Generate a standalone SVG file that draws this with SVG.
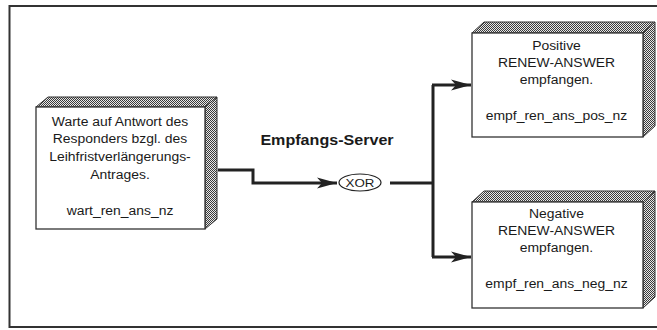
<svg xmlns="http://www.w3.org/2000/svg" width="657" height="330" viewBox="0 0 657 330">
<defs>
<pattern id="dither" width="2" height="2" patternUnits="userSpaceOnUse">
<rect width="2" height="2" fill="#e8e8e8"/>
<rect x="0" y="0" width="1" height="1" fill="#3a3a3a"/>
<rect x="1" y="1" width="1" height="1" fill="#3a3a3a"/>
</pattern>
<marker id="arrow" markerUnits="userSpaceOnUse" markerWidth="24" markerHeight="14" viewBox="-21 -7 22 14" refX="0" refY="0" orient="auto">
<path d="M0,0 L-20,-5.5 L-15,0 L-20,5.5 Z" fill="#222"/>
</marker>
</defs>
<style>
.frame{fill:none;stroke:#333;stroke-width:2}
.face{fill:#fff;stroke:#333;stroke-width:1.3}
.shade{fill:url(#dither);stroke:#333;stroke-width:1}
.t{font-family:"Liberation Sans",Arial,sans-serif;font-size:12px;fill:#1a1a1a;text-anchor:middle}
.tb{font-family:"Liberation Sans",Arial,sans-serif;font-size:14px;font-weight:bold;fill:#1a1a1a;text-anchor:middle}
.conn{fill:none;stroke:#222;stroke-width:3}
.xor{fill:#fff;stroke:#222;stroke-width:1.2}
</style>
<rect width="657" height="330" fill="#fff"/>
<path class="frame" d="M664,6 H9.5 V327 H664"/>

<g id="node-wart">
<polygon class="shade" points="36,107 48,97 217,97 205,107"/>
<polygon class="shade" points="205,107 217,97 217,219 205,229"/>
<rect class="face" x="36" y="107" width="169" height="122"/>
<g transform="translate(120,0) scale(1.16,1)">
<text class="t" x="0" y="126">Warte auf Antwort des</text>
<text class="t" x="0" y="143">Responders bzgl. des</text>
<text class="t" x="0" y="161">Leihfristverlängerungs-</text>
<text class="t" x="0" y="179">Antrages.</text>
<text class="t" x="0" y="215">wart_ren_ans_nz</text>
</g>
</g>

<g id="node-pos">
<polygon class="shade" points="472,33 484,22 655,22 643,33"/>
<polygon class="shade" points="643,33 655,22 655,126 643,137"/>
<rect class="face" x="472" y="33" width="171" height="104"/>
<g transform="translate(556.5,0) scale(1.16,1)">
<text class="t" x="0" y="50">Positive</text>
<text class="t" x="0" y="67">RENEW-ANSWER</text>
<text class="t" x="0" y="84">empfangen.</text>
<text class="t" x="0" y="120">empf_ren_ans_pos_nz</text>
</g>
</g>

<g id="node-neg">
<polygon class="shade" points="472,202 484,191 655,191 643,202"/>
<polygon class="shade" points="643,202 655,191 655,297 643,308"/>
<rect class="face" x="472" y="202" width="171" height="106"/>
<g transform="translate(556.5,0) scale(1.16,1)">
<text class="t" x="0" y="218">Negative</text>
<text class="t" x="0" y="235.5">RENEW-ANSWER</text>
<text class="t" x="0" y="252.5">empfangen.</text>
<text class="t" x="0" y="288">empf_ren_ans_neg_nz</text>
</g>
</g>

<g id="node-xor">
<ellipse class="xor" cx="360" cy="182.5" rx="21" ry="8.5"/>
<g transform="translate(360,0) scale(1.16,1)">
<text class="t" x="0" y="186.7" style="font-size:11.5px">XOR</text>
</g>
</g>

<g id="label-server">
<g transform="translate(327,0) scale(1.15,1)">
<text class="tb" x="0" y="145">Empfangs-Server</text>
</g>
</g>

<g id="connectors">
<path class="conn" d="M218,170 H253 V183 H337" marker-end="url(#arrow)"/>
<path class="conn" d="M390,183 H433"/>
<path class="conn" d="M433,85 V257"/>
<path class="conn" d="M432,85 H471" marker-end="url(#arrow)"/>
<path class="conn" d="M432,257 H471" marker-end="url(#arrow)"/>
</g>
</svg>
